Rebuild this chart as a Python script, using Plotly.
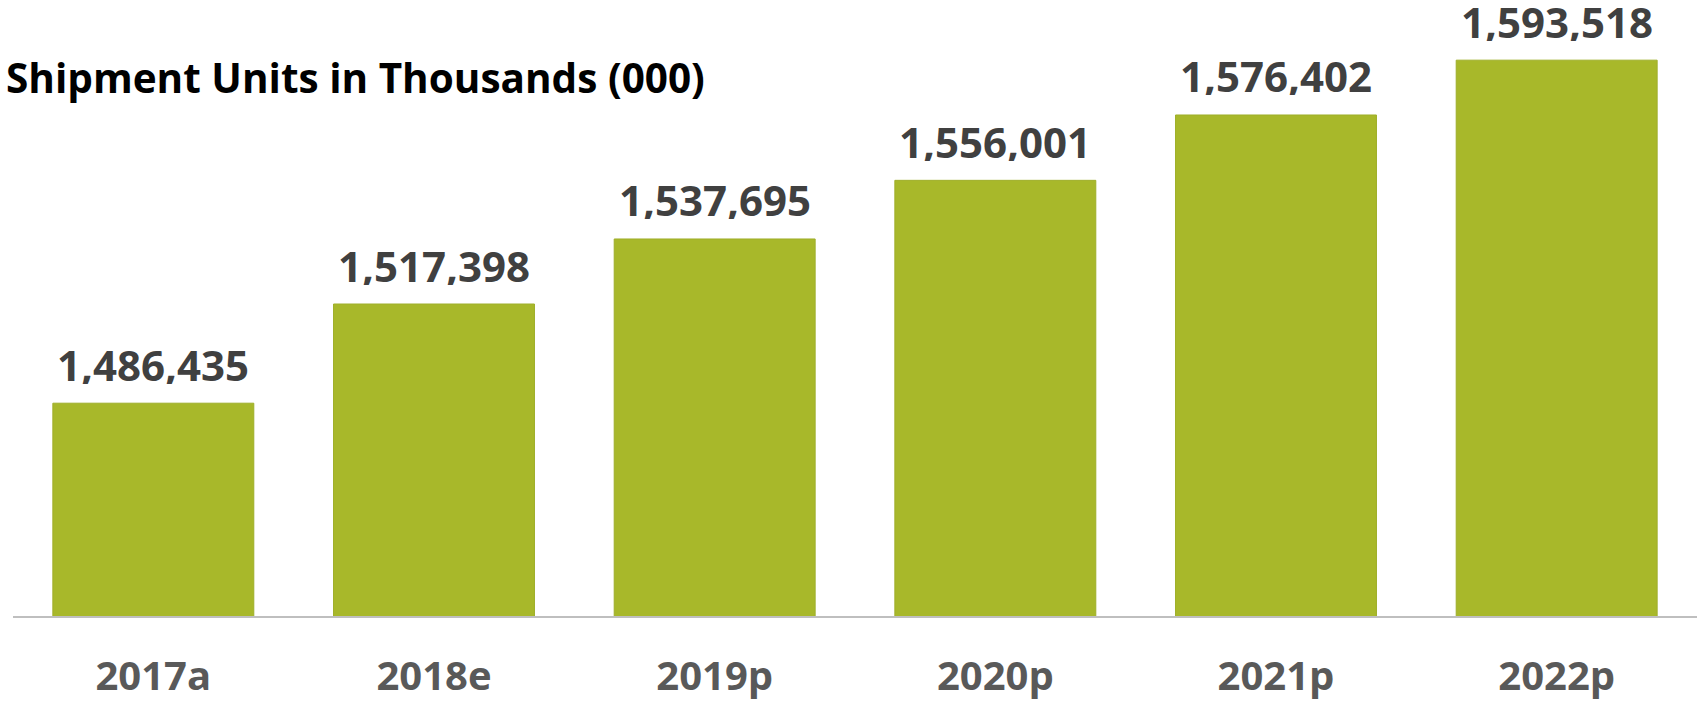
import plotly.graph_objects as go

categories = ["2017a", "2018e", "2019p", "2020p", "2021p", "2022p"]
values = [1486435, 1517398, 1537695, 1556001, 1576402, 1593518]
title_text = "Shipment Units in Thousands (000)"

BAR_COLOR = "#A8B82A"
FONT = "Open Sans"

fig = go.Figure()
fig.add_trace(go.Bar(
    x=categories,
    y=values,
    marker=dict(color=BAR_COLOR, line=dict(color="#9FAF2A", width=1)),
    hoverinfo="skip",
))

for c, v in zip(categories, values):
    fig.add_annotation(
        x=c, y=v, xref="x", yref="y",
        text=f"<b>{v:,}</b>",
        showarrow=False,
        yanchor="bottom",
        height=40,
        yshift=17.5,
        font=dict(family=FONT, size=42, color="#404040"),
    )

fig.update_layout(
    width=1700, height=703,
    margin=dict(l=13, r=3, t=0, b=87, autoexpand=False),
    paper_bgcolor="white",
    plot_bgcolor="white",
    showlegend=False,
    bargap=0.284,
    title=dict(
        text=f"<b>{title_text}</b>",
        x=6 / 1700, xanchor="left", xref="container",
        y=1 - 79 / 703, yanchor="middle", yref="container",
        pad=dict(l=0, r=0, t=0, b=0),
        font=dict(family=FONT, size=40.5, color="#000000"),
    ),
    xaxis=dict(
        automargin=False,
        showline=True, linecolor="#BFBFBF", linewidth=2,
        showgrid=False, zeroline=False,
        ticks="", ticklabelstandoff=24,
        tickfont=dict(family=FONT, size=40, color="#595959"),
        tickvals=categories,
        ticktext=[f"<b>{c}</b>" for c in categories],
    ),
    yaxis=dict(
        automargin=False,
        range=[1420000, 1612300],
        visible=False,
        showgrid=False, zeroline=False,
    ),
)

fig.write_html("out.html")
